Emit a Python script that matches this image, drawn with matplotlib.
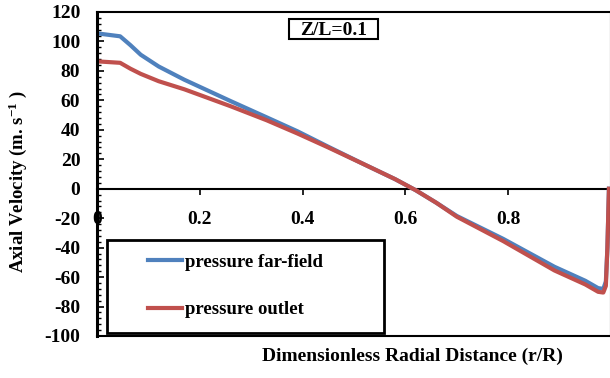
import matplotlib
matplotlib.use("Agg")
import matplotlib.pyplot as plt
from matplotlib.patches import Rectangle

# radial profiles of axial velocity at Z/L = 0.1
r_far = [0.0, 0.045, 0.065, 0.085, 0.12, 0.17, 0.26, 0.33, 0.39, 0.45, 0.52,
         0.58, 0.62, 0.66, 0.70, 0.79, 0.89, 0.95, 0.975, 0.985, 0.990,
         0.993, 0.996]
v_far = [105.5, 103.5, 97.5, 91.0, 83.0, 74.0, 59.5, 48.5, 39.0, 28.5, 16.5,
         6.5, -1.0, -9.5, -18.5, -34.0, -53.0, -62.5, -67.5, -68.0, -63.0,
         -40.0, 0.0]

r_out = [0.0, 0.045, 0.065, 0.085, 0.12, 0.17, 0.26, 0.33, 0.39, 0.45, 0.52,
         0.58, 0.62, 0.66, 0.70, 0.79, 0.89, 0.95, 0.975, 0.985, 0.990,
         0.993, 0.996]
v_out = [86.5, 85.5, 81.5, 78.0, 73.0, 67.5, 56.0, 46.5, 37.5, 28.0, 16.5,
         6.5, -1.0, -9.5, -19.0, -35.5, -55.5, -65.0, -70.0, -70.5, -66.0,
         -40.0, 0.0]

x_ticks = [0, 0.2, 0.4, 0.6, 0.8]
x_tick_labels = ["0", "0.2", "0.4", "0.6", "0.8"]
y_ticks = list(range(-100, 121, 20))

BLUE = "#4F81BD"
RED = "#C0504D"
FONT = "Liberation Serif"

plt.rcParams["font.family"] = [FONT, "DejaVu Serif"]
plt.rcParams["font.weight"] = "bold"
plt.rcParams["axes.unicode_minus"] = False
plt.rcParams["mathtext.fontset"] = "custom"
plt.rcParams["mathtext.rm"] = FONT + ":bold"
plt.rcParams["mathtext.it"] = FONT + ":bold"
plt.rcParams["mathtext.bf"] = FONT + ":bold"

fig = plt.figure(figsize=(6.10, 3.78), dpi=100)
W, H = 610, 378
x0, x1, y0, y1 = 97, 611, 12, 336
ax = fig.add_axes([x0 / W, 1 - y1 / H, (x1 - x0) / W, (y1 - y0) / H])


def ax_x(px):
    return (px - x0) / (x1 - x0)


def ax_y(py):
    return (y1 - py) / (y1 - y0)


ax.plot(r_far, v_far, color=BLUE, lw=3.0, label="pressure far-field",
        solid_joinstyle="round")
ax.plot(r_out, v_out, color=RED, lw=3.0, label="pressure outlet",
        solid_joinstyle="round")

ax.set_xlim(0, 1)
ax.set_ylim(-100, 120)

for s in ax.spines.values():
    s.set_linewidth(1.5)
ax.spines["left"].set_linewidth(2.2)

ax.set_yticks(y_ticks)
ax.set_yticks(range(-100, 121, 4), minor=True)
ax.tick_params(axis="y", which="major", direction="in", length=5, width=1.2,
               pad=12, labelsize=14)
ax.tick_params(axis="y", which="minor", direction="in", length=3, width=1.0)
ax.tick_params(axis="x", bottom=False, labelbottom=False)

# x axis drawn along v = 0
sec = ax.secondary_xaxis(ax_y(188.7))
sec.set_xticks(x_ticks)
sec.set_xticklabels(x_tick_labels)
sec.spines["bottom"].set_linewidth(1.5)
sec.tick_params(direction="out", length=4, width=1.2, pad=12, labelsize=14)

ax.set_xlabel("Dimensionless Radial Distance (r/R)", fontsize=14,
              fontweight="bold")
ax.xaxis.set_label_coords(ax_x(412), ax_y(348))
ax.set_ylabel("Axial Velocity (m. s$^{-1}$ )", fontsize=13.5, fontweight="bold")
ax.yaxis.set_label_coords(ax_x(29), ax_y(182))

# Z/L annotation with its frame
ax.add_patch(Rectangle((ax_x(289), ax_y(38.5)),
                       ax_x(378) - ax_x(289), ax_y(19) - ax_y(38.5),
                       transform=ax.transAxes, fc="white", ec="black", lw=1.5,
                       zorder=5))
ax.text(ax_x(333.5), ax_y(35), "Z/L=0.1",
        transform=ax.transAxes, ha="center", va="baseline", fontsize=14,
        fontweight="bold", zorder=6)

# legend box
ax.add_patch(Rectangle((ax_x(107), ax_y(333)),
                       ax_x(384) - ax_x(107), ax_y(240) - ax_y(333),
                       transform=ax.transAxes, fill=False, ec="black", lw=2.0,
                       zorder=5))
ax.legend(loc="center left", bbox_to_anchor=(ax_x(148), ax_y(286)),
          frameon=False, fontsize=13.5, handlelength=1.8, handletextpad=0.15,
          labelspacing=1.6, borderpad=0, borderaxespad=0)

fig.savefig("out.png", dpi=100)
